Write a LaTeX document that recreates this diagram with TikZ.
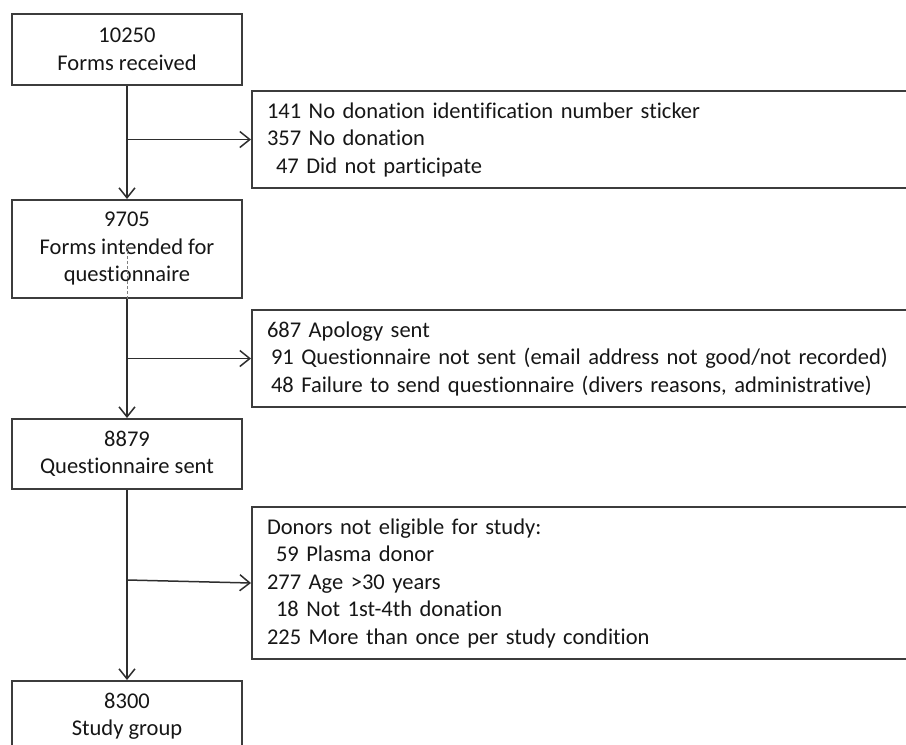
\documentclass[tikz,border=0pt]{standalone}
\usepackage{fontspec}
\setmainfont{Carlito}[RawFeature=-liga]
\usetikzlibrary{arrows.meta}
\definecolor{boxgray}{HTML}{3C3C3C}
\definecolor{linegray}{HTML}{2E2E2E}
\definecolor{textc}{HTML}{161616}
\begin{document}
\begin{tikzpicture}[x=1pt,y=-1pt,
  txt/.style={font=\fontsize{22.5}{27.5}\selectfont, text=textc},
  mainbox/.style={txt, draw=boxgray, line width=2pt, minimum width=230pt, align=center, inner sep=0pt},
  sidebox/.style={txt, draw=boxgray, line width=2pt, text width=660pt, inner xsep=15pt, inner ysep=0pt, align=left, anchor=west},
  arr/.style={draw=linegray, line width=1.5pt, -{Straight Barb[length=10pt,width=16pt,line width=1.5pt]}},
  dashmark/.style={draw=gray, line width=0.8pt, dash pattern=on 3pt off 2pt}
]
\useasboundingbox (0,0) rectangle (906,745);
\clip (0,0) rectangle (906,745);

\node[mainbox, minimum height=71pt] (b1) at (127,49.5) {10250\\Forms received};
\node[mainbox, minimum height=98pt] (b2) at (127,249) {9705\\Forms intended for\\questionnaire};
\node[mainbox, minimum height=70pt] (b3) at (127,454) {8879\\Questionnaire sent};
\node[mainbox, minimum height=70pt] (b4) at (127,716) {8300\\Study group};

\node[sidebox, minimum height=97pt] (s1) at (251,139.5) {141 No donation identification number sticker\\
357 No donation\\
\hspace*{9pt}47 Did not participate};
\node[sidebox, minimum height=97pt] (s2) at (251,358.5) {687 Apology sent\\
\hspace*{4pt}91 Questionnaire not sent (email address not good/not recorded)\\
\hspace*{4pt}48 Failure to send questionnaire (divers reasons, administrative)};
\node[sidebox, minimum height=152pt] (s3) at (251,583) {Donors not eligible for study:\\
\hspace*{9pt}59 Plasma donor\\
277 Age >30 years\\
\hspace*{9pt}18 Not 1st-4th donation\\
225 More than once per study condition};

% main flow
\draw[arr] (b1.south) -- (b2.north);
\draw[arr] (b2.south) -- (b3.north);
\draw[arr] (b3.south) -- (b4.north);

% side branches
\draw[arr] (b1.south |- s1.west) -- (s1.west);
\draw[arr] (b2.south |- s2.west) -- (s2.west);
\coordinate (br3) at (127,580);
\draw[arr] (br3) -- (s3.west);

% dashed trace inside box 2
\coordinate (dtop) at (127,246);
\draw[dashmark] (dtop) -- (b2.south);
\end{tikzpicture}
\end{document}
